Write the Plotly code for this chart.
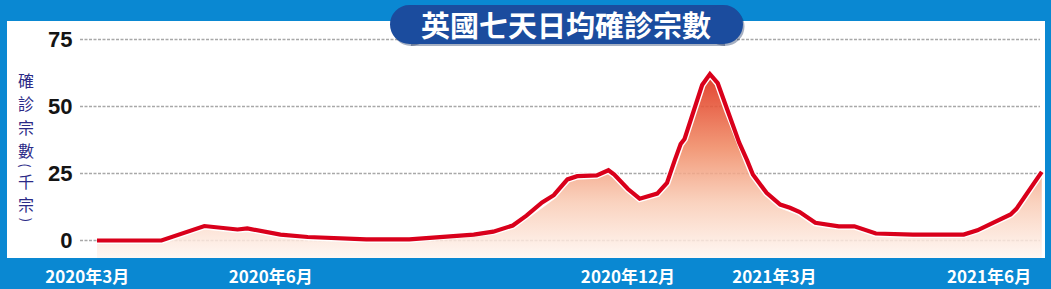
import plotly.graph_objects as go
import pandas as pd

# ---------------- data (thousands of cases, 7-day average) ----------------
dates = [
    "2020-03-01", "2020-04-03", "2020-04-25", "2020-05-12", "2020-05-17",
    "2020-06-03", "2020-06-17", "2020-06-30", "2020-07-17", "2020-08-08",
    "2020-08-25", "2020-09-10", "2020-09-20", "2020-09-30", "2020-10-07",
    "2020-10-15", "2020-10-21", "2020-10-28", "2020-11-02", "2020-11-12",
    "2020-11-18", "2020-11-21", "2020-11-28", "2020-12-04", "2020-12-13",
    "2020-12-18", "2020-12-22", "2020-12-25", "2020-12-27", "2021-01-01",
    "2021-01-03", "2021-01-05", "2021-01-09", "2021-01-13", "2021-01-18",
    "2021-01-24", "2021-01-28", "2021-01-31", "2021-02-07", "2021-02-14",
    "2021-02-19", "2021-02-24", "2021-03-04", "2021-03-16", "2021-03-24",
    "2021-04-04", "2021-04-23", "2021-05-19", "2021-05-26", "2021-06-07",
    "2021-06-12", "2021-06-15", "2021-06-28",
]
cases = [
    0.0, 0.0, 5.4, 4.1, 4.5,
    2.2, 1.3, 0.8, 0.4, 0.4,
    1.4, 2.2, 3.3, 5.6, 9.3,
    14.2, 16.9, 22.8, 24.0, 24.3,
    26.2, 24.6, 19.2, 15.6, 17.5,
    21.5, 30.0, 36.0, 37.9, 48.6,
    53.0, 58.0, 62.1, 58.7, 48.6,
    36.5, 30.0, 24.6, 17.8, 13.4,
    12.2, 10.6, 6.6, 5.3, 5.3,
    2.6, 2.2, 2.2, 3.8, 8.2,
    9.7, 11.8, 25.6,
]
y_ticks = [0, 25, 50, 75]
x_tick_dates = ["2020-02-25", "2020-05-29", "2020-11-28", "2021-02-11", "2021-06-01"]
x_tick_labels = ["2020年3月", "2020年6月", "2020年12月", "2021年3月", "2021年6月"]
title_text = "英國七天日均確診宗數"
y_title_chars = ["確", "診", "宗", "數", "(", "千", "宗", ")"]

# ---------------- layout helpers ----------------
W, H = 1051, 289
BLUE = "#0a88d2"
PILL = "#1b4c9e"
INDIGO = "#2b2a87"


def px(x):
    return x / W


def py(y):
    return 1 - y / H


PX_PER_DAY = 1.952
X0_PX = 97
origin = pd.Timestamp(dates[0])
x_range = [origin - pd.Timedelta(days=X0_PX / PX_PER_DAY),
           origin + pd.Timedelta(days=(W - X0_PX) / PX_PER_DAY)]

ZERO_PX = 240.5
K = 2.68  # pixels per thousand
y_range = [-(H - ZERO_PX) / K, ZERO_PX / K]
panel_bottom_val = -(258 - ZERO_PX) / K
baseline = [panel_bottom_val] * len(dates)

fig = go.Figure()
fig.add_trace(go.Scatter(x=dates, y=baseline, mode="lines", line=dict(width=0),
                         hoverinfo="skip", showlegend=False))
fig.add_trace(go.Scatter(
    x=dates, y=cases, mode="lines", line=dict(color="white", width=7),
    fill="tonexty",
    fillgradient=dict(type="vertical",
                      colorscale=[[0, "rgba(255,246,241,0.85)"],
                                  [0.3, "rgba(249,203,180,0.85)"],
                                  [0.6, "rgba(240,138,100,0.87)"],
                                  [1, "rgba(223,50,28,0.92)"]],
                      start=panel_bottom_val, stop=62),
    hoverinfo="skip", showlegend=False))
fig.add_trace(go.Scatter(x=dates, y=cases, mode="lines",
                         line=dict(color="#d9001b", width=4.2),
                         showlegend=False))

shapes = [
    dict(type="rect", xref="paper", yref="paper", x0=px(7), x1=px(1045),
         y0=py(258), y1=py(21), fillcolor="white", line=dict(width=0), layer="below"),
]
for v in y_ticks:
    shapes.append(dict(type="line", xref="paper", yref="y", x0=px(80), x1=px(1040),
                       y0=v, y1=v, line=dict(color="#a8a8a8", width=1.5, dash="3px,1.5px"),
                       layer="below"))
# title pill (with a soft shadow)
for dx, dy, col in [(1.5, 2, "rgba(0,30,80,0.35)"), (0, 0, PILL)]:
    shapes += [
        dict(type="rect", xref="paper", yref="paper", x0=px(409.5 + dx), x1=px(723.5 + dx),
             y0=py(44 + dy), y1=py(5 + dy), fillcolor=col, line=dict(width=0), layer="above"),
        dict(type="circle", xref="paper", yref="paper", x0=px(390 + dx), x1=px(429 + dx),
             y0=py(44 + dy), y1=py(5 + dy), fillcolor=col, line=dict(width=0), layer="above"),
        dict(type="circle", xref="paper", yref="paper", x0=px(704 + dx), x1=px(743 + dx),
             y0=py(44 + dy), y1=py(5 + dy), fillcolor=col, line=dict(width=0), layer="above"),
    ]

annotations = [
    dict(text="<b>" + title_text + "</b>", xref="paper", yref="paper",
         x=px(566), y=py(24.5), showarrow=False, xanchor="center", yanchor="middle",
         font=dict(family="Noto Sans CJK TC", size=29, color="white")),
]
# vertical axis title: characters stacked one by one (parentheses turned sideways)
CH_SIZE, CH_STEP = 16, 23.4
PAREN_SIZE, PAREN_STEP = 13, 7.5
cursor = 68.0
for ch in y_title_chars:
    is_paren = ch in "()"
    step = PAREN_STEP if is_paren else CH_STEP
    annotations.append(dict(text=ch, xref="paper", yref="paper", x=px(26),
                            y=py(cursor + step / 2), showarrow=False,
                            xanchor="center", yanchor="middle",
                            textangle=90 if is_paren else 0, borderpad=0,
                            font=dict(family="Noto Sans CJK TC",
                                      size=PAREN_SIZE if is_paren else CH_SIZE,
                                      color=INDIGO)))
    cursor += step

fig.update_layout(
    width=W, height=H, margin=dict(l=0, r=0, t=0, b=0),
    paper_bgcolor=BLUE, plot_bgcolor="rgba(0,0,0,0)",
    showlegend=False,
    xaxis=dict(range=x_range, domain=[0, 1], anchor="free", position=py(258),
               tickvals=x_tick_dates, ticktext=x_tick_labels,
               showgrid=False, zeroline=False, showline=False,
               ticks="outside", ticklen=4, tickcolor="rgba(0,0,0,0)",
               tickfont=dict(family="Liberation Sans Narrow, Noto Sans CJK TC",
                             size=17, color="white", weight="bold")),
    yaxis=dict(range=y_range, domain=[0, 1], anchor="free", position=px(80),
               tickvals=y_ticks, showgrid=False, zeroline=False, showline=False,
               ticks="outside", ticklen=3, tickcolor="rgba(0,0,0,0)",
               tickfont=dict(family="Liberation Sans, Arial", size=22, color="#141414",
                             weight="bold")),
    shapes=shapes, annotations=annotations,
)

fig.write_html("out.html")
